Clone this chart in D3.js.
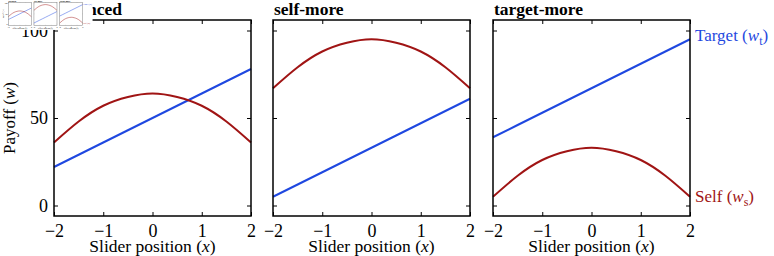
<!DOCTYPE html>
<html><head><meta charset="utf-8">
<script src="https://cdn.jsdelivr.net/npm/d3@7"></script>
<style>
html,body{margin:0;padding:0;background:#fff;}
svg{display:block;font-family:"Liberation Serif","DejaVu Serif",serif;}
</style></head>
<body><svg id="c" width="774" height="256"></svg>
<script>
// ---- data ----
const panelTitles = ["balanced", "self-more", "target-more"];
const xValues = [-2, -1.5, -1, -0.5, 0, 0.5, 1, 1.5, 2];
const targetBalanced   = [22, 29, 36, 43, 50, 57, 64, 71, 78];
const targetSelfMore   = [5, 12, 19, 26, 33, 40, 47, 54, 61];
const targetTargetMore = [39, 46, 53, 60, 67, 74, 81, 88, 95];
const selfBalanced     = [36, 48, 57, 62, 64, 62, 57, 48, 36];
const selfSelfMore     = [67, 79, 88, 93, 95, 93, 88, 79, 67];
const selfTargetMore   = [5, 17, 26, 31, 33, 31, 26, 17, 5];
const xTicks = [-2, -1, 0, 1, 2];
const yTicks = [0, 50, 100];
const targetSeries = [targetBalanced, targetSelfMore, targetTargetMore];
const selfSeries = [selfBalanced, selfSelfMore, selfTargetMore];

const BLUE = "#1f48e0", RED = "#a01414";
const panelLeft = [54, 273, 493], panelW = 197, plotTop = 20, plotBottom = 216;

function drawChart(root, lw) {
  const fmt = d => (d < 0 ? "\u2212" + Math.abs(d) : String(d));
  panelTitles.forEach((title, i) => {
    const x = d3.scaleLinear().domain([-2, 2]).range([panelLeft[i], panelLeft[i] + panelW]);
    const y = d3.scaleLinear().domain([-6, 106]).range([plotBottom, plotTop]);
    const g = root.append("g");
    const tl = 4;
    const styleLines = a => a.selectAll("line").attr("stroke", lw.color).attr("stroke-width", lw.tick);
    g.append("g").attr("transform", `translate(0,${plotBottom})`)
      .call(d3.axisBottom(x).tickValues(xTicks).tickSizeInner(-tl).tickSizeOuter(0).tickPadding(8).tickFormat(fmt))
      .call(a => a.select(".domain").remove())
      .call(a => a.selectAll("text").attr("font-size", 18).attr("font-family", "Liberation Serif").attr("fill", "#000"))
      .call(styleLines);
    g.append("g").attr("transform", `translate(0,${plotTop})`)
      .call(d3.axisTop(x).tickValues(xTicks).tickSizeInner(-tl).tickSizeOuter(0))
      .call(a => a.select(".domain").remove())
      .call(a => a.selectAll("text").remove())
      .call(styleLines);
    const yl = g.append("g").attr("transform", `translate(${panelLeft[i]},0)`)
      .call(d3.axisLeft(y).tickValues(yTicks).tickSizeInner(-tl).tickSizeOuter(0).tickPadding(6).tickFormat(fmt))
      .call(a => a.select(".domain").remove())
      .call(a => a.selectAll("text").attr("font-size", 18).attr("font-family", "Liberation Serif").attr("fill", "#000"))
      .call(styleLines);
    if (i !== 0) yl.selectAll("text").remove();
    g.append("g").attr("transform", `translate(${panelLeft[i] + panelW},0)`)
      .call(d3.axisRight(y).tickValues(yTicks).tickSizeInner(-tl).tickSizeOuter(0))
      .call(a => a.select(".domain").remove())
      .call(a => a.selectAll("text").remove())
      .call(styleLines);

    const line = d3.line().x((d, j) => x(xValues[j])).y(d => y(d));
    g.append("path").datum(targetSeries[i]).attr("fill", "none").attr("stroke", BLUE)
      .attr("stroke-width", lw.line).attr("d", line.curve(d3.curveLinear));
    g.append("path").datum(selfSeries[i]).attr("fill", "none").attr("stroke", RED)
      .attr("stroke-width", lw.line).attr("d", line.curve(d3.curveNatural));

    g.append("rect").attr("x", panelLeft[i]).attr("y", plotTop).attr("width", panelW).attr("height", plotBottom - plotTop)
      .attr("fill", "none").attr("stroke", lw.color).attr("stroke-width", lw.frame);

    g.append("text").attr("x", panelLeft[i] + 1).attr("y", 15).attr("font-weight", "bold")
      .attr("font-size", 17.5).text(title);
    const xl = g.append("text").attr("x", panelLeft[i] + panelW / 2).attr("y", 252)
      .attr("text-anchor", "middle").attr("font-size", 17.5);
    xl.append("tspan").text("Slider position (");
    xl.append("tspan").attr("font-style", "italic").text("x");
    xl.append("tspan").text(")");

    if (i === 2) {
      const xe = x(2) + 5;
      const t1 = g.append("text").attr("x", xe).attr("y", y(targetSeries[i][8]) + 2).attr("fill", BLUE).attr("font-size", 17);
      t1.append("tspan").text("Target (");
      t1.append("tspan").attr("font-style", "italic").text("w");
      t1.append("tspan").attr("font-size", 12).attr("dy", 4).text("t");
      t1.append("tspan").attr("dy", -4).text(")");
      const t2 = g.append("text").attr("x", xe).attr("y", y(selfSeries[i][8]) + 5).attr("fill", RED).attr("font-size", 17);
      t2.append("tspan").text("Self (");
      t2.append("tspan").attr("font-style", "italic").text("w");
      t2.append("tspan").attr("font-size", 12).attr("dy", 4).text("s");
      t2.append("tspan").attr("dy", -4).text(")");
    }
  });
  const yt = root.append("text").attr("transform", "translate(15,118) rotate(-90)")
    .attr("text-anchor", "middle").attr("font-size", 17);
  yt.append("tspan").text("Payoff (");
  yt.append("tspan").attr("font-style", "italic").text("w");
  yt.append("tspan").text(")");
}

const svg = d3.select("#c");
drawChart(svg.append("g"), { line: 2, frame: 1.5, tick: 1, color: "#000" });
// small inset thumbnail of the same figure at top-left
const thumb = svg.append("g").attr("transform", "translate(2,0) scale(0.117)");
thumb.append("rect").attr("x", 0).attr("y", 0).attr("width", 774).attr("height", 256).attr("fill", "#fff");
drawChart(thumb.append("g"), { line: 4, frame: 4, tick: 2, color: "#777" });
</script></body></html>
